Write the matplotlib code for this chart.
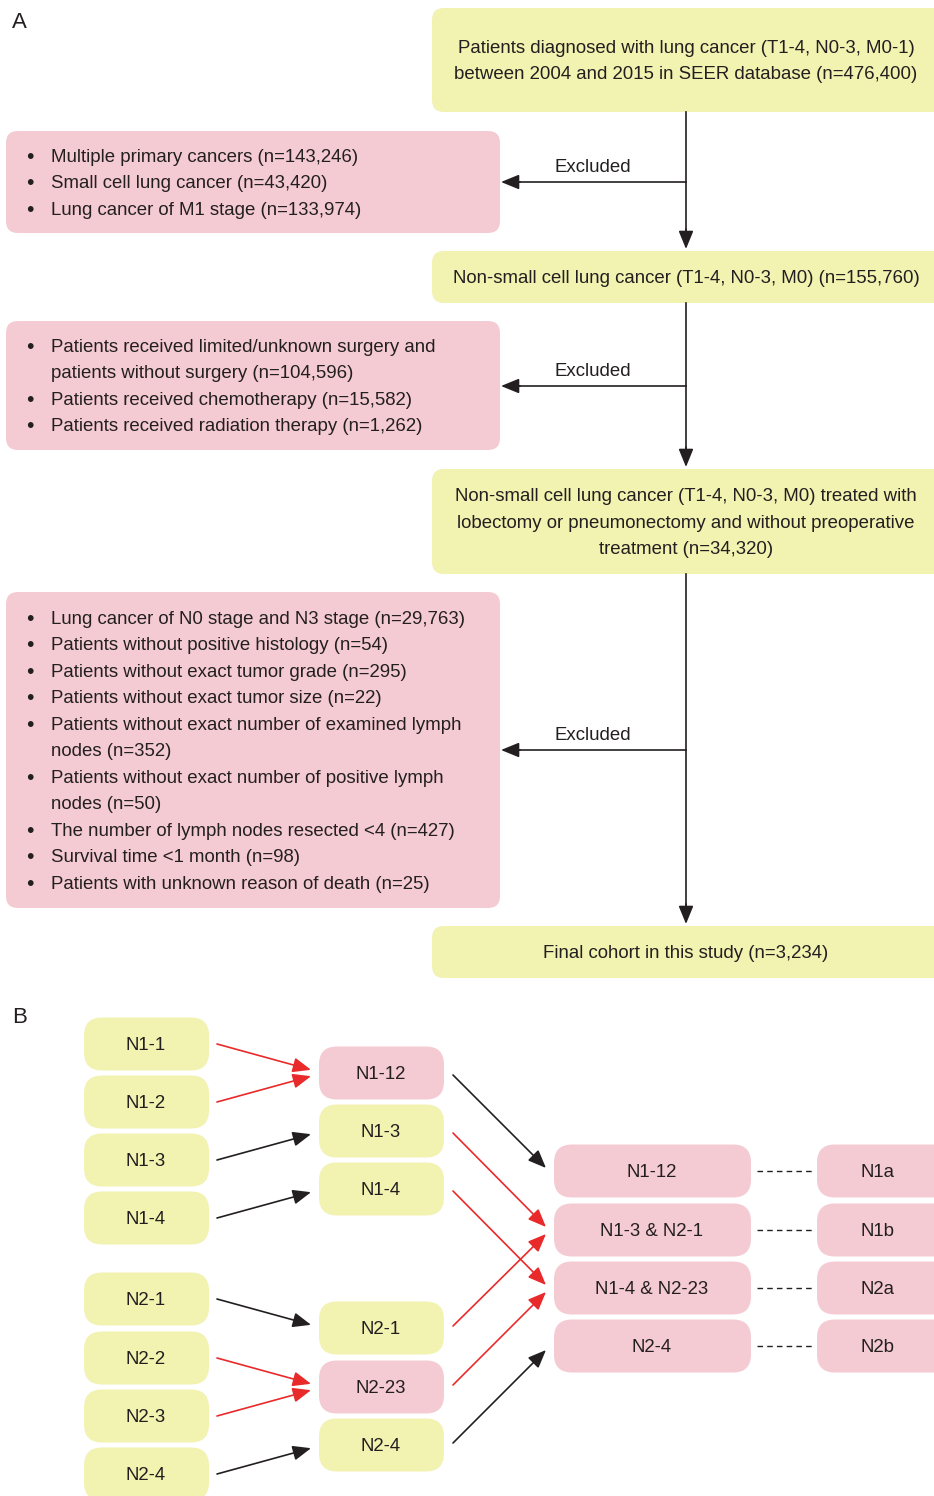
import matplotlib.pyplot as plt
from matplotlib.patches import FancyBboxPatch, FancyArrowPatch

plt.rcParams['font.family'] = ['Liberation Sans', 'DejaVu Sans']

YELLOW = '#f2f2b1'
PINK = '#f5cbd3'
RED = '#e92a2a'
INK = '#231f20'

# ---- panel A texts
main_steps = [
    'Patients diagnosed with lung cancer (T1-4, N0-3, M0-1)\nbetween 2004 and 2015 in SEER database (n=476,400)',
    'Non-small cell lung cancer (T1-4, N0-3, M0) (n=155,760)',
    'Non-small cell lung cancer (T1-4, N0-3, M0) treated with\nlobectomy or pneumonectomy and without preoperative\ntreatment (n=34,320)',
    'Final cohort in this study (n=3,234)',
]
excluded_1 = [
    'Multiple primary cancers (n=143,246)',
    'Small cell lung cancer (n=43,420)',
    'Lung cancer of M1 stage (n=133,974)',
]
excluded_2 = [
    'Patients received limited/unknown surgery and\npatients without surgery (n=104,596)',
    'Patients received chemotherapy (n=15,582)',
    'Patients received radiation therapy (n=1,262)',
]
excluded_3 = [
    'Lung cancer of N0 stage and N3 stage (n=29,763)',
    'Patients without positive histology (n=54)',
    'Patients without exact tumor grade (n=295)',
    'Patients without exact tumor size (n=22)',
    'Patients without exact number of examined lymph\nnodes (n=352)',
    'Patients without exact number of positive lymph\nnodes (n=50)',
    'The number of lymph nodes resected <4 (n=427)',
    'Survival time <1 month (n=98)',
    'Patients with unknown reason of death (n=25)',
]

# ---- panel B texts
stations = ['N1-1', 'N1-2', 'N1-3', 'N1-4', 'N2-1', 'N2-2', 'N2-3', 'N2-4']
merged = ['N1-12', 'N1-3', 'N1-4', 'N2-1', 'N2-23', 'N2-4']
merged_pink = [True, False, False, False, True, False]
groups = ['N1-12', 'N1-3 & N2-1', 'N1-4 & N2-23', 'N2-4']
n_stage = ['N1a', 'N1b', 'N2a', 'N2b']
# station -> merged, merged -> group, red = changed
links_1 = [(0, 0, True), (1, 0, True), (2, 1, False), (3, 2, False),
           (4, 3, False), (5, 4, True), (6, 4, True), (7, 5, False)]
links_2 = [(0, 0, False), (1, 1, True), (2, 2, True), (3, 1, True),
           (4, 2, True), (5, 3, False)]

fig = plt.figure(figsize=(9.34, 14.96), dpi=100)
ax = fig.add_axes([0, 0, 1, 1])
ax.set_xlim(0, 934)
ax.set_ylim(1496, 0)
ax.axis('off')

FS = 13.4
LH = 26.5
DY = 1.5  # small optical offset of text centre


def box(x0, y0, x1, y1, color, r=12):
    ax.add_patch(FancyBboxPatch((x0, y0), x1 - x0, y1 - y0,
                                boxstyle='round,pad=0,rounding_size=%g' % r,
                                fc=color, ec='none', zorder=1))


def arrow(p0, p1, color=INK):
    ax.add_patch(FancyArrowPatch(p0, p1, arrowstyle='-|>,head_length=11,head_width=4.5',
                                 color=color, lw=1.2, shrinkA=0, shrinkB=0,
                                 mutation_scale=1, zorder=3))


# panel A
ax.text(12, 22, 'A', fontsize=16, color=INK, va='center')
main_y = [(8, 112), (251, 303), (469, 574), (926, 978)]
for txt, (y0, y1) in zip(main_steps, main_y):
    box(432, y0, 950, y1, YELLOW)
    lines = txt.split('\n')
    yc = (y0 + y1) / 2 - (len(lines) - 1) * LH / 2 + DY
    for i, ln in enumerate(lines):
        ax.text(686, yc + i * LH, ln, fontsize=FS, color=INK, ha='center', va='center')

excl_boxes = [(excluded_1, 131, 233, 182), (excluded_2, 321, 450, 386),
              (excluded_3, 592, 908, 750)]
for items, y0, y1, ya in excl_boxes:
    box(6, y0, 500, y1, PINK)
    lines = []
    for it in items:
        for j, ln in enumerate(it.split('\n')):
            lines.append((ln, j == 0))
    yc = (y0 + y1) / 2 - (len(lines) - 1) * LH / 2 + DY
    for i, (ln, bullet) in enumerate(lines):
        if bullet:
            ax.text(30, yc + i * LH, '\u2022', fontsize=FS + 2, color=INK, ha='center', va='center')
        ax.text(51, yc + i * LH, ln, fontsize=FS, color=INK, ha='left', va='center')
    ax.plot([686, 510], [ya, ya], color=INK, lw=1.2, zorder=2)
    arrow((520, ya), (501, ya))
    ax.text(593, ya - 15, 'Excluded', fontsize=FS, color=INK, ha='center', va='center')

for (a, b) in [(112, 249), (303, 467), (574, 924)]:
    ax.plot([686, 686], [a, b - 10], color=INK, lw=1.2, zorder=2)
    arrow((686, b - 20), (686, b))

# panel B
ax.text(12, 1017, 'B', fontsize=16, color=INK, va='center')
st_y = [1044, 1102, 1160, 1218, 1299, 1358, 1416, 1474]
mg_y = [1073, 1131, 1189, 1328, 1387, 1445]
gr_y = [1171, 1230, 1288, 1346]
H = 53
for lab, yc in zip(stations, st_y):
    box(84, yc - H / 2, 209, yc + H / 2, YELLOW, r=18)
    ax.text(146, yc + DY, lab, fontsize=FS, color=INK, ha='center', va='center')
for lab, yc, pk in zip(merged, mg_y, merged_pink):
    box(319, yc - H / 2, 444, yc + H / 2, PINK if pk else YELLOW, r=18)
    ax.text(381, yc + DY, lab, fontsize=FS, color=INK, ha='center', va='center')
for lab, lab2, yc in zip(groups, n_stage, gr_y):
    box(554, yc - H / 2, 751, yc + H / 2, PINK, r=18)
    ax.text(652, yc + DY, lab, fontsize=FS, color=INK, ha='center', va='center')
    box(817, yc - H / 2, 960, yc + H / 2, PINK, r=18)
    ax.text(878, yc + DY, lab2, fontsize=FS, color=INK, ha='center', va='center')
    ax.plot([757, 812], [yc, yc], color=INK, lw=1.0, ls=(0, (4, 3)))

for s, m, red in links_1:
    y0 = st_y[s]
    y1 = mg_y[m] + (st_y[s] - mg_y[m]) * 0.11
    arrow((217, y0), (311, y1), RED if red else INK)
for m, g, red in links_2:
    y0 = mg_y[m] + (2 if mg_y[m] < gr_y[g] else -2)
    y1 = gr_y[g] + (-3 if mg_y[m] < gr_y[g] else 4)
    arrow((453, y0), (546, y1), RED if red else INK)

fig.savefig('out.png', dpi=100)
